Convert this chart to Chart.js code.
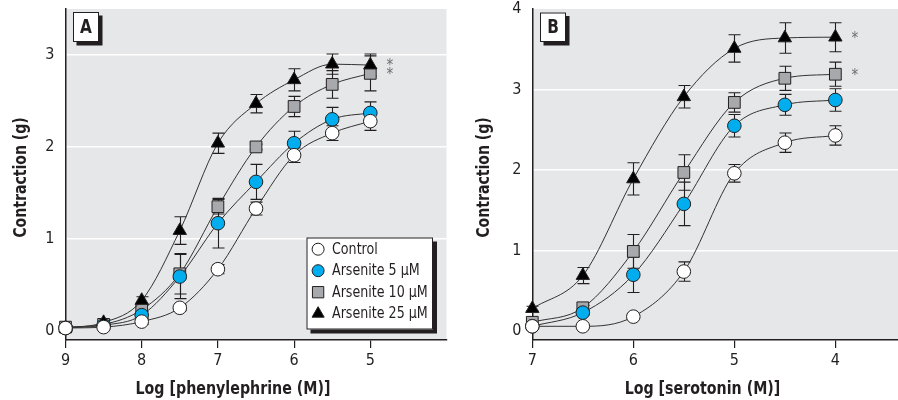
<!DOCTYPE html>
<html><head><meta charset="utf-8">
<script src="https://cdn.jsdelivr.net/npm/chart.js@4/dist/chart.umd.min.js"></script>
<style>
html,body{margin:0;padding:0;background:#fff;}
#wrap{position:relative;width:898px;height:400px;overflow:hidden;}
#ca{position:absolute;left:0;top:0;}
#cb{position:absolute;left:450px;top:0;}
</style></head><body>
<div id="wrap">
<canvas id="ca" width="450" height="400"></canvas>
<canvas id="cb" width="448" height="400"></canvas>
</div>
<script>
// ---------- data ----------
const seriesLabels = ['Control', 'Arsenite 5 \u03BCM', 'Arsenite 10 \u03BCM', 'Arsenite 25 \u03BCM'];

// Panel A: phenylephrine
const doseA = [9, 8.5, 8, 7.5, 7, 6.5, 6, 5.5, 5];
const controlA = [0.03, 0.04, 0.10, 0.25, 0.67, 1.33, 1.91, 2.15, 2.28];
const ars5A    = [0.03, 0.06, 0.17, 0.59, 1.17, 1.62, 2.04, 2.30, 2.37];
const ars10A   = [0.04, 0.07, 0.23, 0.62, 1.35, 2.00, 2.44, 2.68, 2.80];
const ars25A   = [0.03, 0.09, 0.33, 1.09, 2.04, 2.47, 2.73, 2.90, 2.89];
const controlAErr = [0.02, 0.02, 0.03, 0.03, 0.05, 0.07, 0.08, 0.08, 0.10];
const ars5AErr    = [0.02, 0.02, 0.04, 0.24, 0.27, 0.19, 0.13, 0.13, 0.12];
const ars10AErr   = [0.02, 0.02, 0.05, 0.22, 0.08, 0.03, 0.11, 0.15, 0.19];
const ars25AErr   = [0.02, 0.03, 0.04, 0.15, 0.11, 0.10, 0.12, 0.11, 0.12];
const xTicksA = [9, 8, 7, 6, 5];
const yTicksA = [0, 1, 2, 3];
const starsA = ['', '', '*', '*'];

// Panel B: serotonin
const doseB = [7, 6.5, 6, 5.5, 5, 4.5, 4];
const controlB = [0.06, 0.06, 0.18, 0.74, 1.96, 2.34, 2.43];
const ars5B    = [0.06, 0.23, 0.70, 1.58, 2.55, 2.81, 2.87];
const ars10B   = [0.11, 0.29, 0.99, 1.97, 2.84, 3.14, 3.19];
const ars25B   = [0.28, 0.69, 1.89, 2.91, 3.51, 3.64, 3.65];
const controlBErr = [0.02, 0.02, 0.03, 0.12, 0.11, 0.12, 0.12];
const ars5BErr    = [0.02, 0.03, 0.22, 0.27, 0.14, 0.13, 0.14];
const ars10BErr   = [0.02, 0.03, 0.21, 0.22, 0.12, 0.15, 0.15];
const ars25BErr   = [0.03, 0.10, 0.20, 0.14, 0.17, 0.19, 0.18];
const xTicksB = [7, 6, 5, 4];
const yTicksB = [0, 1, 2, 3, 4];
const starsB = ['', '', '*', '*'];

// ---------- styles ----------
const FONT = '"Liberation Sans Narrow", "DejaVu Sans Condensed", "Arial Narrow", sans-serif';
const INK = '#231f20';
const BG = '#e6e7e8';
const BLUE = '#00aeef';
const GRAY = '#a7a9ac';
const markerStyles = [
  {pointStyle: 'circle', bg: '#ffffff', r: 6.8, lr: 6, order: 0},
  {pointStyle: 'circle', bg: BLUE, r: 6.8, lr: 6, order: 2},
  {pointStyle: 'rect', bg: GRAY, r: 8.3, lr: 8, order: 3},
  {pointStyle: 'triangle', bg: '#000000', r: 7.7, lr: 7, order: 1}
];

function makeDatasets(dose, series, errs) {
  return series.map((vals, i) => ({
    label: seriesLabels[i],
    data: dose.map((d, j) => ({x: d, y: vals[j]})),
    err: errs[i],
    pointStyle: markerStyles[i].pointStyle,
    pointRadius: markerStyles[i].r,
    pointHoverRadius: markerStyles[i].r,
    pointBackgroundColor: markerStyles[i].bg,
    pointBorderColor: INK,
    pointBorderWidth: 1,
    borderColor: '#333333',
    borderWidth: 1,
    fill: false,
    cubicInterpolationMode: 'monotone',
    clip: false,
    order: markerStyles[i].order
  }));
}

function makeScales(xmin, xmax, xTicks, ymin, ymax, yTicks, yWidth) {
  return {
    x: {
      type: 'linear', reverse: true, min: xmin, max: xmax,
      afterBuildTicks: s => { s.ticks = xTicks.map(v => ({value: v})); },
      afterFit: s => { s.height = 60; s.paddingLeft = 0; s.paddingRight = 0; },
      grid: {drawOnChartArea: false, drawTicks: true, tickLength: 8, color: INK, lineWidth: 1.2},
      border: {display: true, color: INK, width: 1.5},
      ticks: {color: INK, font: {family: FONT, size: 16}, padding: 3, autoSkip: false, maxRotation: 0}
    },
    y: {
      type: 'linear', min: ymin, max: ymax,
      afterBuildTicks: s => { s.ticks = yTicks.map(v => ({value: v})); },
      afterFit: s => { s.width = yWidth; s.paddingTop = 0; s.paddingBottom = 0; },
      grid: {drawTicks: false, lineWidth: 1.6,
             color: c => (c.tick && (c.tick.value === 0 || c.tick.value === ymax)) ? 'rgba(0,0,0,0)' : '#ffffff'},
      border: {display: true, color: INK, width: 1.5},
      ticks: {color: INK, font: {family: FONT, size: 16}, padding: 11}
    }
  };
}

function shadowBox(ctx, x, y, w, h, off) {
  ctx.fillStyle = INK;
  ctx.fillRect(x + off, y + off, w, h);
  ctx.fillStyle = '#ffffff';
  ctx.fillRect(x, y, w, h);
  ctx.strokeStyle = INK;
  ctx.lineWidth = 1;
  ctx.strokeRect(x + 0.5, y + 0.5, w - 1, h - 1);
}

// draw text squeezed horizontally (the reference uses a condensed face)
function narrowText(ctx, text, x, y, sx, rot) {
  ctx.save();
  ctx.translate(x, y);
  if (rot) ctx.rotate(rot);
  ctx.scale(sx, 1);
  ctx.fillText(text, 0, 0);
  ctx.restore();
}

const decor = {
  id: 'decor',
  beforeDraw(chart) {
    const {ctx, chartArea: a} = chart;
    ctx.save();
    ctx.fillStyle = BG;
    ctx.fillRect(a.left, a.top, a.right - a.left, a.bottom - a.top);
    ctx.restore();
  },
  beforeDatasetsDraw(chart) {
    const {ctx, scales: {x, y}} = chart;
    ctx.save();
    ctx.strokeStyle = INK;
    ctx.lineWidth = 1.1;
    chart.data.datasets.forEach(ds => {
      ds.data.forEach((p, j) => {
        const e = ds.err[j];
        const px = Math.round(x.getPixelForValue(p.x)) + 0.5;
        const yt = y.getPixelForValue(p.y + e);
        const yb = y.getPixelForValue(p.y - e);
        ctx.beginPath();
        ctx.moveTo(px, yt); ctx.lineTo(px, yb);
        ctx.moveTo(px - 6, yt); ctx.lineTo(px + 6, yt);
        ctx.moveTo(px - 6, yb); ctx.lineTo(px + 6, yb);
        ctx.stroke();
      });
    });
    ctx.restore();
  },
  afterDatasetsDraw(chart, args, o) {
    const {ctx, scales: {x, y}} = chart;
    ctx.save();
    // asterisks
    ctx.fillStyle = '#6d6e71';
    ctx.font = '15px ' + FONT;
    ctx.textAlign = 'center';
    ctx.textBaseline = 'middle';
    chart.data.datasets.forEach((ds, i) => {
      const s = o.stars[i];
      if (!s) return;
      const last = ds.data[ds.data.length - 1];
      ctx.fillText(s, x.getPixelForValue(last.x) + 19.5, y.getPixelForValue(last.y) + 1.5);
    });
    // panel letter
    const pb = o.panelBox;
    shadowBox(ctx, pb.x, pb.y, pb.w, pb.h, 3.5);
    ctx.fillStyle = INK;
    ctx.font = 'bold 20px ' + FONT;
    ctx.textAlign = 'center';
    ctx.textBaseline = 'middle';
    narrowText(ctx, o.panel, pb.x + pb.w / 2, pb.y + pb.h / 2 + 1, 0.85);
    // legend
    if (o.legend) {
      const L = o.legend;
      shadowBox(ctx, L.x, L.y, L.w, L.h, 4);
      chart.data.datasets.forEach((ds, i) => {
        const cy = L.y + L.first + i * L.step;
        ctx.fillStyle = markerStyles[i].bg;
        ctx.strokeStyle = INK;
        ctx.lineWidth = 1;
        Chart.helpers.drawPoint(ctx, {pointStyle: markerStyles[i].pointStyle, radius: markerStyles[i].lr, borderWidth: 1}, L.x + 11.6, cy);
        ctx.fillStyle = INK;
        ctx.font = '16px ' + FONT;
        ctx.textAlign = 'left';
        ctx.textBaseline = 'middle';
        narrowText(ctx, ds.label, L.x + 25.5, cy + 0.5, L.sx);
      });
    }
    ctx.restore();
  },
  afterDraw(chart, args, o) {
    const {ctx} = chart;
    ctx.save();
    ctx.fillStyle = INK;
    ctx.font = 'bold 17px ' + FONT;
    ctx.textAlign = 'center';
    ctx.textBaseline = 'middle';
    narrowText(ctx, o.xTitle, o.xTitlePos[0], o.xTitlePos[1], 0.93);
    narrowText(ctx, o.yTitle, o.yTitlePos[0], o.yTitlePos[1], 0.92, -Math.PI / 2);
    ctx.restore();
  }
};

function baseOptions(padding, scales, decorOpts) {
  return {
    responsive: false,
    animation: false,
    events: [],
    layout: {padding, autoPadding: false},
    scales,
    plugins: {legend: {display: false}, tooltip: {enabled: false}, decor: decorOpts}
  };
}

new Chart(document.getElementById('ca'), {
  type: 'line',
  data: {datasets: makeDatasets(doseA, [controlA, ars5A, ars10A, ars25A], [controlAErr, ars5AErr, ars10AErr, ars25AErr])},
  options: baseOptions({left: 0, top: 9, right: 3.5, bottom: 0},
    makeScales(4, 9, xTicksA, -0.1, 3.5, yTicksA, 65.5),
    {panel: 'A', panelBox: {x: 73, y: 12, w: 26, h: 30}, stars: starsA,
     legend: {x: 306.5, y: 237.5, w: 126.5, h: 92, first: 11.7, step: 21.5, sx: 0.88},
     xTitle: 'Log [phenylephrine (M)]', xTitlePos: [233, 390],
     yTitle: 'Contraction (g)', yTitlePos: [21.5, 177.5]}),
  plugins: [decor]
});

new Chart(document.getElementById('cb'), {
  type: 'line',
  data: {datasets: makeDatasets(doseB, [controlB, ars5B, ars10B, ars25B], [controlBErr, ars5BErr, ars10BErr, ars25BErr])},
  options: baseOptions({left: 0, top: 9, right: 0, bottom: 0},
    makeScales(3.38, 7, xTicksB, -0.11, 4, yTicksB, 82.3),
    {panel: 'B', panelBox: {x: 90, y: 12.5, w: 26, h: 29.5}, stars: starsB,
     legend: null,
     xTitle: 'Log [serotonin (M)]', xTitlePos: [252.5, 390],
     yTitle: 'Contraction (g)', yTitlePos: [35, 177.5]}),
  plugins: [decor]
});
</script>
</body></html>
